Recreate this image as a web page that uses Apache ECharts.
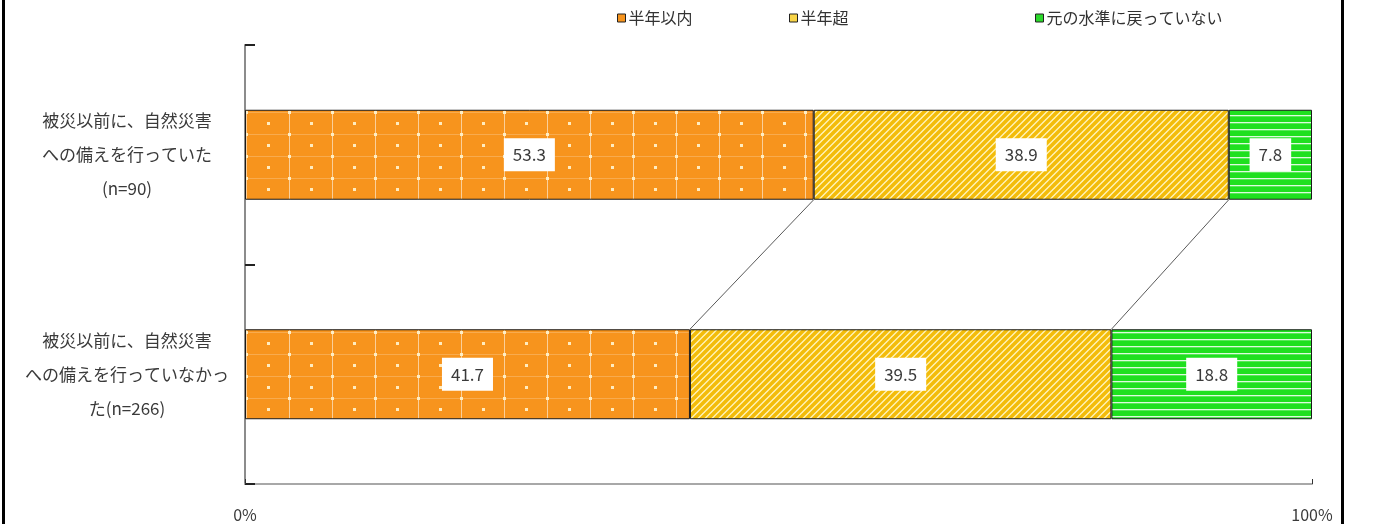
<!DOCTYPE html>
<html>
<head>
<meta charset="utf-8">
<title>被災以前の備えと回復時期</title>
<script src="https://cdn.jsdelivr.net/npm/echarts@6.0.0/dist/echarts.min.js"></script>
<style>
  html, body { margin: 0; padding: 0; background: #fff; }
  #chart { width: 1374px; height: 524px; }
</style>
</head>
<body>
<div id="chart"></div>
<script>
// Categories (top to bottom) and the share (%) of each recovery period
const categories = [
  '被災以前に、自然災害\nへの備えを行っていた\n(n=90)',
  '被災以前に、自然災害\nへの備えを行っていなかっ\nた(n=266)'
];
const seriesNames = ['半年以内', '半年超', '元の水準に戻っていない'];
const within6Months = [53.3, 41.7];
const over6Months = [38.9, 39.5];
const notRecovered = [7.8, 18.8];
const valueAxisTicks = [0, 100];

const FONT = '"Noto Sans CJK JP", "Noto Sans", sans-serif';
const TEXT = '#3a3a3a';
const BAR_RATIO = 0.41;

// ---- fill patterns -------------------------------------------------------
function makeTile(w, h, draw) {
  const c = document.createElement('canvas');
  c.width = w; c.height = h;
  draw(c.getContext('2d'), w, h);
  return c;
}

// orange with a light grid of dots
const orangeTile = makeTile(43, 22, (g, w, h) => {
  g.fillStyle = '#F7941D';
  g.fillRect(0, 0, w, h);
  g.fillStyle = 'rgba(255,255,255,0.55)';
  g.fillRect(31, 0, 1, h);            // vertical rule
  g.fillStyle = 'rgba(255,255,255,0.22)';
  g.fillRect(0, 2, w, 1);             // faint horizontal rule
  g.fillStyle = 'rgba(255,240,200,0.95)';
  g.fillRect(9, 12, 3, 3);            // dot inside the cell
  g.fillRect(30, 1, 3, 3);            // dot on the rule
});

// yellow with white diagonal stripes
const yellowTile = makeTile(7, 7, (g, w, h) => {
  g.fillStyle = '#FFF3B8';
  g.fillRect(0, 0, w, h);
  g.strokeStyle = '#F3BC0A';
  g.lineWidth = 3.6;
  g.beginPath();
  for (let k = -1; k <= 1; k++) {
    g.moveTo(k * w - 1, h + 1);
    g.lineTo(k * w + w + 1, -1);
  }
  g.stroke();
});

// green with white horizontal lines
const greenTile = makeTile(8, 7, (g, w, h) => {
  g.fillStyle = '#1FE01F';
  g.fillRect(0, 0, w, h);
  g.fillStyle = 'rgba(255,255,255,0.85)';
  g.fillRect(0, 3, w, 1.3);
});

const fills = [
  { image: orangeTile, repeat: 'repeat' },
  { image: yellowTile, repeat: 'repeat' },
  { image: greenTile, repeat: 'repeat' }
];
const legendColors = ['#F7941D', '#F8D447', '#2BD92B'];
const seriesValues = [within6Months, over6Months, notRecovered];

// cumulative boundaries joined between the two bars
const connectorData = [];
for (let s = 0; s < seriesValues.length - 1; s++) {
  let a = 0, b = 0;
  for (let k = 0; k <= s; k++) { a += seriesValues[k][0]; b += seriesValues[k][1]; }
  connectorData.push([a, b, 0]);
}

const barSeries = seriesNames.map((name, i) => ({
  name,
  type: 'bar',
  stack: 'total',
  barWidth: (BAR_RATIO * 100) + '%',
  data: seriesValues[i],
  itemStyle: { color: fills[i], borderColor: '#1a1a1a', borderWidth: 1 },
  label: {
    show: true,
    position: 'inside',
    formatter: p => p.value.toFixed(1),
    color: TEXT,
    fontFamily: FONT,
    fontSize: 17,
    backgroundColor: '#ffffff',
    padding: [8, 9, 8, 9]
  },
  emphasis: { disabled: true },
  silent: true
}));

const connectorSeries = {
  type: 'custom',
  name: 'connector',
  data: connectorData,
  encode: { x: [0, 1], y: 2 },
  silent: true,
  z: 1,
  renderItem(params, api) {
    const band = api.size([0, 1])[1];
    const half = band * BAR_RATIO / 2;
    const p0 = api.coord([api.value(0), 0]);
    const p1 = api.coord([api.value(1), 1]);
    return {
      type: 'line',
      shape: { x1: p0[0], y1: p0[1] + half, x2: p1[0], y2: p1[1] - half },
      style: { stroke: '#5a5a5a', lineWidth: 1 }
    };
  }
};

const legendLeft = [617, 789, 1035];
const legends = seriesNames.map((name, i) => ({
  left: legendLeft[i],
  top: 10,
  padding: 0,
  itemWidth: 8,
  itemHeight: 8,
  itemGap: 4,
  selectedMode: false,
  icon: 'rect',
  textStyle: { color: '#333', fontFamily: FONT, fontSize: 16, padding: [0, 0, 0, -2] },
  data: [{ name, itemStyle: { color: legendColors[i], borderColor: '#222', borderWidth: 1 } }]
}));

const option = {
  animation: false,
  backgroundColor: '#fff',
  legend: legends,
  grid: { left: 245, right: 62, top: 45, bottom: 40, containLabel: false },
  xAxis: {
    type: 'value',
    min: valueAxisTicks[0],
    max: valueAxisTicks[valueAxisTicks.length - 1],
    interval: valueAxisTicks[1] - valueAxisTicks[0],
    axisLine: { show: true, lineStyle: { color: '#A8A8A8', width: 2 } },
    axisTick: { show: true, inside: true, length: 5, lineStyle: { color: '#333' } },
    splitLine: { show: false },
    axisLabel: {
      formatter: '{value}%',
      margin: 23,
      color: TEXT,
      fontFamily: FONT,
      fontSize: 16
    }
  },
  yAxis: {
    type: 'category',
    inverse: true,
    data: categories,
    axisLine: { show: true, lineStyle: { color: '#8C8C8C', width: 2 } },
    axisTick: { show: true, inside: true, length: 10, alignWithLabel: false, lineStyle: { color: '#222', width: 2 } },
    axisLabel: {
      margin: 118,
      align: 'center',
      color: TEXT,
      fontFamily: FONT,
      fontSize: 17,
      lineHeight: 34
    }
  },
  graphic: [
    { type: 'rect', left: 2, top: 0, shape: { width: 3, height: 524 }, style: { fill: '#000' }, silent: true },
    { type: 'rect', left: 1341, top: 0, shape: { width: 3, height: 524 }, style: { fill: '#000' }, silent: true }
  ],
  series: [connectorSeries, ...barSeries]
};

const chart = echarts.init(document.getElementById('chart'), null, { renderer: 'canvas' });
chart.setOption(option);
</script>
</body>
</html>
